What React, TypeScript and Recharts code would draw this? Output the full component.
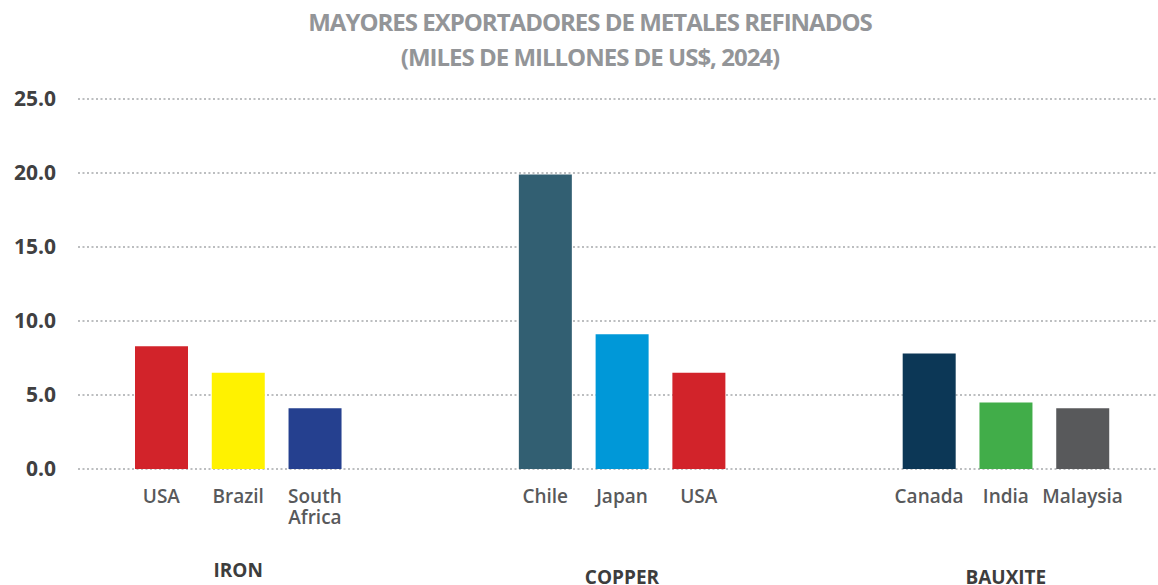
import { BarChart, Bar, XAxis, YAxis, CartesianGrid, Cell } from "recharts";

const groups = ["IRON", "COPPER", "BAUXITE"];
const ironCountries = ["USA", "Brazil", "South Africa"];
const ironValues = [8.3, 6.5, 4.1];
const ironColors = ["#d2232a", "#fff200", "#25408f"];
const copperCountries = ["Chile", "Japan", "USA"];
const copperValues = [19.9, 9.1, 6.5];
const copperColors = ["#325f72", "#0098d8", "#d2232a"];
const bauxiteCountries = ["Canada", "India", "Malaysia"];
const bauxiteValues = [7.8, 4.5, 4.1];
const bauxiteColors = ["#0c3756", "#41ad49", "#58595b"];
const yTicks = [0, 5, 10, 15, 20, 25];

interface Row {
  key: string;
  name: string;
  group: string;
  mid: boolean;
  value: number | null;
  color: string;
}

const blocks = [
  { countries: ironCountries, values: ironValues, colors: ironColors },
  { countries: copperCountries, values: copperValues, colors: copperColors },
  { countries: bauxiteCountries, values: bauxiteValues, colors: bauxiteColors },
];

const rows: Row[] = [];
blocks.forEach((b, gi) => {
  if (gi > 0) {
    // two empty slots between groups
    for (let s = 0; s < 2; s++) {
      rows.push({ key: `gap-${gi}-${s}`, name: "", group: "", mid: false, value: null, color: "none" });
    }
  }
  b.countries.forEach((c, i) => {
    rows.push({
      key: `${groups[gi]}-${c}`,
      name: c,
      group: groups[gi],
      mid: i === 1,
      value: b.values[i],
      color: b.colors[i],
    });
  });
});

const byKey: Record<string, Row> = {};
rows.forEach((r) => (byKey[r.key] = r));

// the group names sit a little lower for copper and bauxite in the original
const groupDy: Record<string, number> = { IRON: 100, COPPER: 107, BAUXITE: 107 };

function CountryTick(props: any) {
  const { x, y, payload } = props;
  const row = byKey[payload.value];
  if (!row || !row.name) return null;
  const lines = row.name.split(" ");
  return (
    <g>
      {lines.map((l, i) => (
        <text
          key={i}
          x={x}
          y={y + 26 + i * 21}
          textAnchor="middle"
          fill="#58595b"
          fontSize={19}
          fontWeight={600}
          fontFamily="Open Sans"
        >
          {l}
        </text>
      ))}
      {row.mid && (
        <text
          x={x}
          y={y + groupDy[row.group]}
          textAnchor="middle"
          fill="#3d3d3d"
          fontSize={19}
          fontWeight={700}
          fontFamily="Open Sans"
        >
          {row.group}
        </text>
      )}
    </g>
  );
}

export default function App() {
  return (
    <div style={{ position: "relative", width: 1158, height: 585 }}>
      <style>{"body{margin:0}"}</style>
      <div
        style={{
          position: "absolute",
          left: 0,
          top: 3.5,
          width: 1180,
          textAlign: "center",
          fontFamily: "Open Sans",
          fontWeight: 700,
          fontSize: 24,
          letterSpacing: -1,
          lineHeight: "35px",
          color: "#939598",
        }}
      >
        MAYORES EXPORTADORES DE METALES REFINADOS
        <br />
        (MILES DE MILLONES DE US$, 2024)
      </div>
      <BarChart width={1158} height={585} data={rows} margin={{ top: 99, right: 0, left: 0, bottom: 0 }}>
        <CartesianGrid vertical={false} stroke="#bcbec0" strokeWidth={2} strokeDasharray="2 2.5" />
        <XAxis
          dataKey="key"
          height={116}
          interval={0}
          tickLine={false}
          axisLine={false}
          padding={{ left: 45, right: 37 }}
          tick={<CountryTick />}
        />
        <YAxis
          width={78}
          domain={[0, 25]}
          ticks={yTicks}
          axisLine={false}
          tickLine={false}
          tickMargin={16}
          tickFormatter={(v: number) => v.toFixed(1)}
          tick={{ fill: "#404041", fontSize: 21, fontWeight: 700, fontFamily: "Open Sans" }}
        />
        <Bar dataKey="value" barSize={53} isAnimationActive={false}>
          {rows.map((r) => (
            <Cell key={r.key} fill={r.color} />
          ))}
        </Bar>
      </BarChart>
    </div>
  );
}
